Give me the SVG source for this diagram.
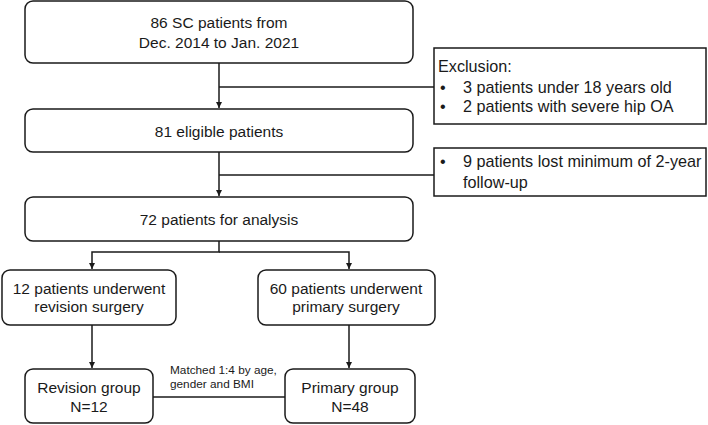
<svg xmlns="http://www.w3.org/2000/svg" width="708" height="425" viewBox="0 0 708 425">
<style>
.b{fill:#fff;stroke:#1a1a1a;stroke-width:1.5}
.t{font-family:"Liberation Sans",Arial,sans-serif;font-size:15.5px;fill:#1a1a1a}
.x{font-family:"Liberation Sans",Arial,sans-serif;font-size:16.2px;fill:#1a1a1a}
.c{text-anchor:middle}
.s{font-family:"Liberation Sans",Arial,sans-serif;font-size:11.8px;fill:#1a1a1a}
.l{fill:none;stroke:#1a1a1a;stroke-width:1.5}
</style>
<defs>
<marker id="a" viewBox="0 0 10 10" refX="10" refY="5" markerWidth="6" markerHeight="6" markerUnits="userSpaceOnUse" orient="auto">
<path d="M0,0L10,5L0,10z" fill="#1a1a1a"/>
</marker>
</defs>
<rect width="708" height="425" fill="#fff"/>
<g id="connectors">
<path class="l" d="M219,63V108" marker-end="url(#a)"/>
<path class="l" d="M219,87H434"/>
<path class="l" d="M219,152V196" marker-end="url(#a)"/>
<path class="l" d="M219,175H434"/>
<path class="l" d="M219,241V252H92V269" marker-end="url(#a)"/>
<path class="l" d="M219,252H349V269" marker-end="url(#a)"/>
<path class="l" d="M92,325V368" marker-end="url(#a)"/>
<path class="l" d="M349,325V368" marker-end="url(#a)"/>
<path class="l" d="M153,397H285"/>
<text class="s" x="170" y="374">Matched 1:4 by age,</text>
<text class="s" x="170" y="388">gender and BMI</text>
</g>
<g id="n1"><rect class="b" x="25" y="1" width="388" height="62" rx="8"/>
<text class="t c" x="219" y="28">86 SC patients from</text>
<text class="t c" x="219" y="48">Dec. 2014 to Jan. 2021</text></g>
<g id="excl1"><rect class="b" x="434" y="48" width="272" height="76"/>
<text class="x" x="438" y="72">Exclusion:</text>
<text class="x" x="440" y="93">•</text><text class="x" x="463" y="93">3 patients under 18 years old</text>
<text class="x" x="440" y="112">•</text><text class="x" x="463" y="112">2 patients with severe hip OA</text></g>
<g id="n2"><rect class="b" x="25" y="109" width="388" height="43" rx="8"/>
<text class="t c" x="219" y="137">81 eligible patients</text></g>
<g id="excl2"><rect class="b" x="434" y="148" width="272" height="48"/>
<text class="x" x="440" y="167">•</text><text class="x" x="463" y="167">9 patients lost minimum of 2-year</text>
<text class="x" x="463" y="188">follow-up</text></g>
<g id="n3"><rect class="b" x="25" y="197" width="388" height="44" rx="8"/>
<text class="t c" x="219" y="225">72 patients for analysis</text></g>
<g id="n4"><rect class="b" x="2" y="270" width="174" height="55" rx="8"/>
<text class="t c" x="89" y="294">12 patients underwent</text>
<text class="t c" x="89" y="312">revision surgery</text></g>
<g id="n5"><rect class="b" x="258" y="270" width="177" height="55" rx="8"/>
<text class="t c" x="346" y="294">60 patients underwent</text>
<text class="t c" x="346" y="312">primary surgery</text></g>
<g id="n6"><rect class="b" x="25" y="369" width="128" height="54" rx="8"/>
<text class="t c" x="89" y="393">Revision group</text>
<text class="t c" x="89" y="412">N=12</text></g>
<g id="n7"><rect class="b" x="285" y="369" width="130" height="54" rx="8"/>
<text class="t c" x="350" y="393">Primary group</text>
<text class="t c" x="350" y="412">N=48</text></g>
</svg>
